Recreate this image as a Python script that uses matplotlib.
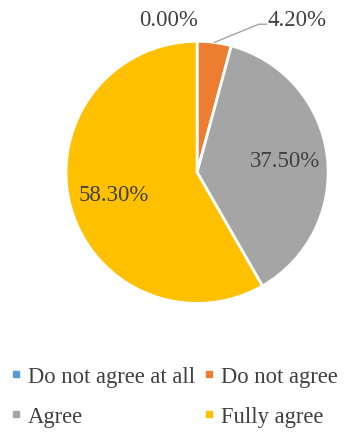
import matplotlib.pyplot as plt
import numpy as np
from matplotlib.lines import Line2D

plt.rcParams['font.family'] = ['Liberation Serif', 'DejaVu Serif']

labels = ['Do not agree at all', 'Do not agree', 'Agree', 'Fully agree']
values = [0.0, 4.2, 37.5, 58.3]
colors = ['#5B9BD5', '#ED7D31', '#A5A5A5', '#FFC000']
text_color = '#404040'

fig = plt.figure(figsize=(3.44, 4.35), dpi=100)
ax = fig.add_axes([0.192, 0.299, 0.762, 0.605])

wedges, _ = ax.pie(values, colors=colors, startangle=90, counterclock=False,
                   radius=1.0, wedgeprops=dict(edgecolor='white', linewidth=2))
ax.set_xlim(-1, 1)
ax.set_ylim(-1, 1)
ax.set_aspect('equal')

# labels inside the two big slices
for w, v, r in zip(wedges[2:], values[2:], [0.68, 0.66]):
    ang = np.deg2rad((w.theta1 + w.theta2) / 2)
    ax.text(r * np.cos(ang), r * np.sin(ang), f'{v:.2f}%', ha='center', va='center',
            fontsize=16.5, color=text_color)

# small slices: labels above the pie
ax.text(-0.22, 1.17, f'{values[0]:.2f}%', ha='center', va='center',
        fontsize=16.5, color=text_color, clip_on=False)
w = wedges[1]
ang = np.deg2rad((w.theta1 + w.theta2) / 2)
x0, y0 = np.cos(ang), np.sin(ang)
ax.plot([x0, 0.47, 0.53], [y0, 1.13, 1.13], color='#A5A5A5', lw=1, clip_on=False)
ax.text(0.76, 1.17, f'{values[1]:.2f}%', ha='center', va='center',
        fontsize=16.5, color=text_color, clip_on=False)

# legend filled row by row
order = [0, 2, 1, 3]
handles = [Line2D([], [], marker='s', linestyle='none', markersize=5,
                  markerfacecolor=colors[i], markeredgecolor=colors[i]) for i in order]
fig.legend(handles, [labels[i] for i in order], ncol=2, loc='upper left',
           bbox_to_anchor=(0.0, 0.178), frameon=False, fontsize=16.3,
           labelcolor=text_color, handlelength=0.6, handletextpad=0.22,
           columnspacing=0.32, labelspacing=0.85, borderaxespad=0)

fig.savefig('out.png', dpi=100)
